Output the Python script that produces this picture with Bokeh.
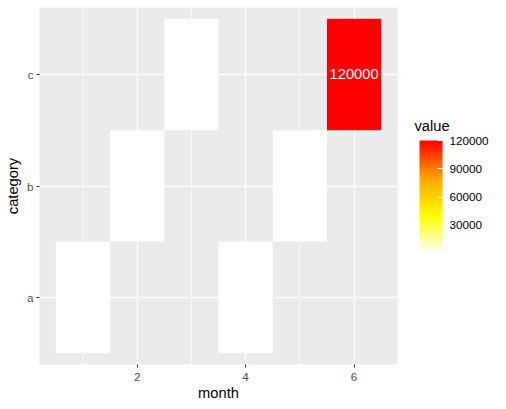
from bokeh.plotting import figure
from bokeh.models import (ColumnDataSource, LinearColorMapper, ColorBar, FixedTicker,
                          PrintfTickFormatter, Range1d, Label)
from bokeh.core.properties import value
from bokeh.transform import transform
from bokeh.embed import file_html
from bokeh.resources import INLINE

# data
categories = ["a", "b", "c"]
months = [1, 2, 3, 4, 5, 6]
tile_category = ["a", "b", "c", "a", "b", "c"]
values = [100, 200, 300, 400, 500, 120000]
legend_ticks = [30000, 60000, 90000, 120000]
x_ticks = [2, 4, 6]

def hex2rgb(h):
    h = h.lstrip("#")
    return tuple(int(h[i:i + 2], 16) for i in (0, 2, 4))

stops = [(0.0, "#FFFFFF"), (1 / 3, "#FFFF00"), (2 / 3, "#FFA500"), (1.0, "#FF0000")]
palette = []
for i in range(256):
    t = i / 255
    for (t0, c0), (t1, c1) in zip(stops[:-1], stops[1:]):
        if t0 <= t <= t1:
            f = (t - t0) / (t1 - t0)
            a, b = hex2rgb(c0), hex2rgb(c1)
            palette.append("#%02x%02x%02x" % tuple(round(a[k] + (b[k] - a[k]) * f) for k in range(3)))
            break

ypos = [categories.index(c) + 1 for c in tile_category]
src = ColumnDataSource(dict(x=months, y=ypos, v=values, label=[str(v) for v in values]))

mapper = LinearColorMapper(palette=palette, low=min(values), high=max(values))

p = figure(width=506, height=409, output_backend="svg", toolbar_location=None,
           x_range=Range1d(0.2, 6.8), y_range=Range1d(0.4, 3.6),
           min_border_left=39, min_border_right=109, min_border_top=7, min_border_bottom=45)
p.background_fill_color = "#EBEBEB"
p.border_fill_color = "white"
p.outline_line_color = None

p.rect(x="x", y="y", width=1, height=1, source=src, fill_color=transform("v", mapper),
       line_color=None)
p.text(x="x", y="y", text="label", source=src, text_color="white", text_align="center",
       text_baseline="middle", text_font_size="14.7px", text_font=value("Liberation Sans"))

p.xaxis.ticker = FixedTicker(ticks=x_ticks, minor_ticks=[1, 3, 5])
p.yaxis.ticker = FixedTicker(ticks=[1, 2, 3], minor_ticks=[])
p.yaxis.major_label_overrides = {i + 1: c for i, c in enumerate(categories)}
p.xaxis.axis_label = "month"
p.yaxis.axis_label = "category"

for ax in (p.xaxis, p.yaxis):
    ax.axis_line_color = None
    ax.major_tick_line_color = "#333333"
    ax.major_tick_out = 3
    ax.major_tick_in = 0
    ax.minor_tick_line_color = None
    ax.major_label_text_color = "#4D4D4D"
    ax.major_label_text_font_size = "11.7px"
    ax.major_label_text_font = "Liberation Sans"
    ax.axis_label_text_font_size = "14.7px"
    ax.axis_label_text_font = "Liberation Sans"
    ax.axis_label_text_font_style = "normal"
    ax.axis_label_text_color = "black"
    ax.major_label_standoff = 2
    ax.axis_label_standoff = 3
p.xaxis.major_label_standoff = 4
p.xaxis.axis_label_standoff = 1
p.yaxis.major_label_standoff = 3

for g in (p.xgrid, p.ygrid):
    g.grid_line_color = "white"
    g.grid_line_width = 1.4
p.xgrid.minor_grid_line_color = "white"
p.xgrid.minor_grid_line_width = 0.7
p.xgrid.level = "underlay"
p.ygrid.level = "underlay"

cb = ColorBar(color_mapper=mapper, ticker=FixedTicker(ticks=legend_ticks),
              formatter=PrintfTickFormatter(format="%d"),
              width=23, height=113, padding=0, location=(380, 111),
              major_label_text_font_size="11.7px", major_label_text_font="Liberation Sans",
              major_label_text_color="black", label_standoff=7,
              major_tick_line_color="white", major_tick_in=5, major_tick_out=0,
              bar_line_color=None, border_line_color=None, background_fill_alpha=0)
p.add_layout(cb, "center")

title = Label(x=17, y=239, x_units="screen", y_units="screen", text="value",
              text_font_size="14.7px", text_font="Liberation Sans", text_color="black",
              text_baseline="alphabetic", text_align="left")
p.add_layout(title, "right")

open("out.html", "w").write(file_html(p, INLINE))
